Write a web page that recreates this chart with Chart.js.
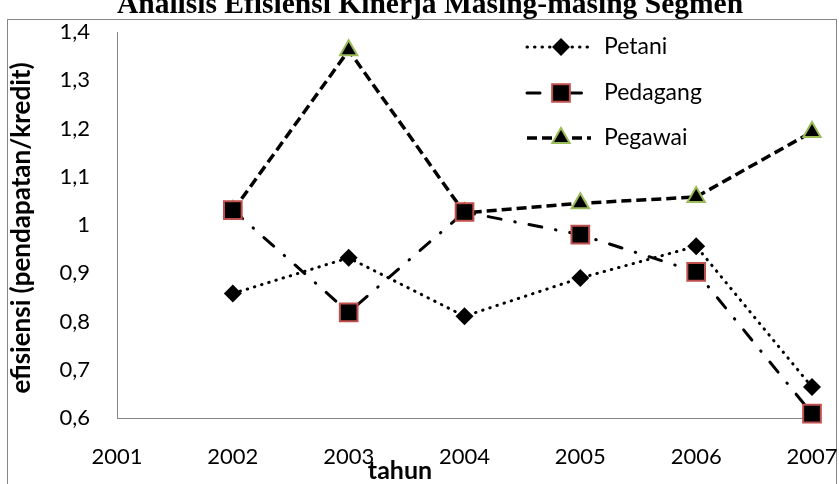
<!DOCTYPE html>
<html>
<head>
<meta charset="utf-8">
<script src="https://cdn.jsdelivr.net/npm/chart.js@4/dist/chart.umd.min.js"></script>
<style>
  html, body { margin: 0; padding: 0; background: #fff; }
  #wrap { width: 839px; height: 484px; }
</style>
</head>
<body>
<div id="wrap"><canvas id="c" width="839" height="484"></canvas></div>
<script>
/* data -------------------------------------------------------- */
const years    = [2002, 2003, 2004, 2005, 2006, 2007];
const petani   = [0.858, 0.932, 0.811, 0.890, 0.956, 0.664];
const pedagang = [1.031, 0.819, 1.027, 0.980, 0.903, 0.609];
const pegawai  = [1.029, 1.362, 1.025, 1.045, 1.058, 1.193];
const names    = ['Petani', 'Pedagang', 'Pegawai'];
const xTicks   = [2001, 2002, 2003, 2004, 2005, 2006, 2007];
const yTicks   = [0.6, 0.7, 0.8, 0.9, 1.0, 1.1, 1.2, 1.3, 1.4];
const chartTitle = 'Analisis Efisiensi Kinerja Masing-masing Segmen';
const xTitle   = 'tahun';
const yTitle   = 'efisiensi (pendapatan/kredit)';

const FONT = 'Lato';
const AXIS = '#868686';

const pts = vals => years.map((y, i) => ({ x: y, y: vals[i] }));
const fmt = v => String(+v.toFixed(1)).replace('.', ',');

/* frame, titles and legend drawn on the canvas -------------------- */
const deco = {
  id: 'deco',
  beforeDraw(chart) {
    const ctx = chart.ctx;
    ctx.save();
    ctx.fillStyle = '#fff';
    ctx.fillRect(0, 0, chart.width, chart.height);
    ctx.strokeStyle = AXIS;
    ctx.lineWidth = 1;
    ctx.strokeRect(7.5, 19.5, 829, 500);
    ctx.restore();
  },
  afterDraw(chart) {
    const ctx = chart.ctx;
    ctx.save();
    ctx.fillStyle = '#000';

    // chart title (cut at the top edge)
    ctx.font = 'bold 29.5px "Liberation Serif"';
    ctx.textAlign = 'center';
    ctx.textBaseline = 'alphabetic';
    ctx.fillText(chartTitle, 430, 13);

    // axis titles
    ctx.font = 'bold 25px ' + FONT;
    ctx.textBaseline = 'middle';
    ctx.fillText(xTitle, 400, 471);
    ctx.font = 'bold 26px ' + FONT;
    ctx.translate(22, 228);
    ctx.rotate(-Math.PI / 2);
    ctx.fillText(yTitle, 0, 0);
    ctx.restore();

    // legend: line sample + marker + label
    const rows = [47, 93, 138];
    chart.data.datasets.forEach((ds, i) => {
      const y = rows[i];
      ctx.save();
      ctx.strokeStyle = ds.borderColor;
      ctx.lineWidth = ds.borderWidth;
      ctx.lineCap = ds.borderCapStyle || 'butt';
      ctx.setLineDash(ds.borderDash || []);
      ctx.beginPath();
      ctx.moveTo(527, y);
      ctx.lineTo(591, y);
      ctx.stroke();
      ctx.setLineDash([]);
      ctx.fillStyle = ds.pointBackgroundColor;
      ctx.strokeStyle = ds.pointBorderColor;
      ctx.lineWidth = ds.pointBorderWidth;
      Chart.helpers.drawPoint(ctx, {
        pointStyle: ds.pointStyle, radius: ds.pointRadius,
        rotation: 0, borderWidth: ds.pointBorderWidth
      }, 561, y);
      ctx.fillStyle = '#000';
      ctx.font = '23px ' + FONT;
      ctx.textAlign = 'left';
      ctx.textBaseline = 'middle';
      ctx.fillText(ds.label, 604, y);
      ctx.restore();
    });
  }
};

new Chart(document.getElementById('c'), {
  type: 'scatter',
  data: {
    datasets: [
      {
        label: names[0], data: pts(petani), showLine: true, clip: false,
        borderColor: '#000', borderWidth: 3, borderDash: [0.5, 7], borderCapStyle: 'round',
        pointStyle: 'rectRot', pointRadius: 9,
        pointBackgroundColor: '#000', pointBorderColor: '#000', pointBorderWidth: 0
      },
      {
        label: names[1], data: pts(pedagang), showLine: true, clip: false,
        borderColor: '#000', borderWidth: 3, borderDash: [13, 14, 0.5, 14], borderCapStyle: 'round',
        pointStyle: 'rect', pointRadius: 12.5,
        pointBackgroundColor: '#000', pointBorderColor: '#c0504d', pointBorderWidth: 2
      },
      {
        label: names[2], data: pts(pegawai), showLine: true, clip: false,
        borderColor: '#000', borderWidth: 3.5, borderDash: [10, 5],
        pointStyle: 'triangle', pointRadius: 10,
        pointBackgroundColor: '#000', pointBorderColor: '#9bbb59', pointBorderWidth: 2
      }
    ]
  },
  options: {
    responsive: false,
    animation: false,
    layout: { autoPadding: false, padding: { top: 32, right: 27, left: 0, bottom: 0 } },
    plugins: { legend: { display: false }, tooltip: { enabled: false } },
    elements: { line: { tension: 0 } },
    scales: {
      x: {
        type: 'linear', min: 2001, max: 2007,
        afterBuildTicks: s => { s.ticks = xTicks.map(v => ({ value: v })); },
        afterFit: s => { s.height = 66; s.paddingLeft = 0; s.paddingRight = 0; },
        grid: { display: false, drawTicks: false },
        border: { color: AXIS, width: 1 },
        ticks: { color: '#000', font: { family: FONT, size: 22 }, padding: 26,
                 maxRotation: 0, autoSkip: false, callback: v => String(v) }
      },
      y: {
        min: 0.6, max: 1.4,
        afterBuildTicks: s => { s.ticks = yTicks.map(v => ({ value: v })); },
        afterFit: s => { s.width = 117; s.paddingTop = 0; s.paddingBottom = 0; },
        grid: { display: false, drawTicks: false },
        border: { color: AXIS, width: 1 },
        ticks: { color: '#000', font: { family: FONT, size: 22 }, padding: 27,
                 autoSkip: false, callback: v => fmt(v) }
      }
    }
  },
  plugins: [deco]
});
</script>
</body>
</html>
